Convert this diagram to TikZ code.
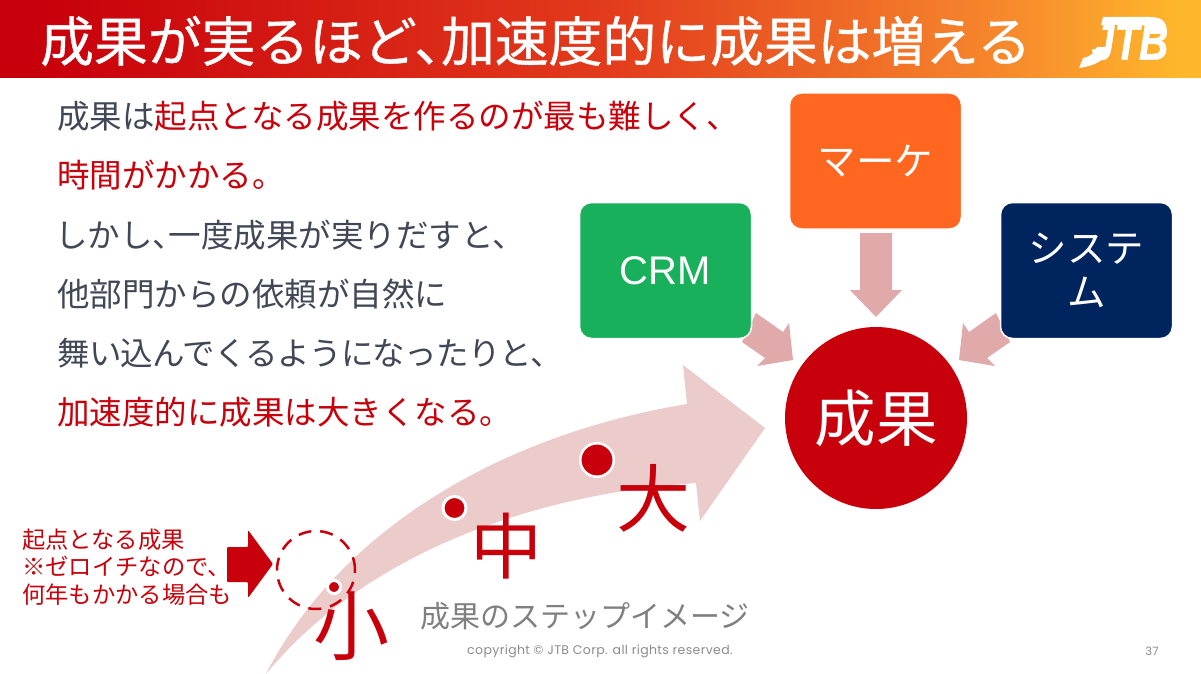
\documentclass[tikz,border=0pt]{standalone}
\usepackage{fontspec}
\setmainfont{Noto Sans CJK JP}
\newfontfamily\titlefont[FakeBold=0.7]{Noto Sans CJK JP}
\newfontfamily\tightfont[LetterSpace=-2.2]{Noto Sans CJK JP}
\newfontfamily\latinfont{Liberation Sans}
\newfontfamily\smallfont[LetterSpace=3]{Poppins}
\newfontfamily\logofont[FakeBold=1]{Liberation Sans Bold Italic}
\definecolor{jred}{HTML}{C8000B}
\definecolor{jgray}{HTML}{404756}
\definecolor{jpink}{HTML}{E0A9AA}
\definecolor{jarrow}{HTML}{EBCCCB}
\definecolor{g0}{HTML}{C8000B}
\definecolor{g1}{HTML}{E23A1C}
\definecolor{g2}{HTML}{F6872C}
\definecolor{g3}{HTML}{FEB62C}
\pgfdeclarehorizontalshading{hgrad}{100bp}{
 color(0bp)=(g0); color(27bp)=(g0); color(50bp)=(g1);
 color(66.5bp)=(g2); color(74bp)=(g3); color(100bp)=(g3)}
\tikzset{
 x=1pt,y=-1pt,
 box/.style={draw=white,line width=1.5pt,rounded corners=12pt,minimum width=172pt,minimum height=136pt,inner sep=0pt,text=white,align=center},
 body/.style={anchor=west,inner sep=0pt,font=\fontsize{32.5}{36}\selectfont,text=jgray},
 sizelabel/.style={inner sep=0pt,text=jred},
 dotmark/.style={circle,fill=jred,draw=white,inner sep=0pt,outer sep=0pt,line width=3pt},
 pinkarrow/.style={fill=jpink,draw=none},
}
\begin{document}
\begin{tikzpicture}
\useasboundingbox (0,0) rectangle (1201,674);
\fill[white] (0,0) rectangle (1201,674);
\shade[shading=hgrad] (0,0) rectangle (1201,78);
\node[anchor=west,inner sep=0pt,text=white] (title) at (40,41) {\titlefont\fontsize{53.8}{56}\selectfont 成果が実るほど、\hspace{-.5em}加速度的に成果は増える};
\node[inner sep=0pt,text=white,xscale=.78] (logo) at (1130,42) {\logofont\fontsize{52}{52}\selectfont JTB};
\fill[white] (1079,68) -- (1083,58) .. controls (1092,56) and (1095,52) .. (1097,47) -- (1110,47) .. controls (1106,60) and (1095,66) .. (1079,68) -- cycle;
\fill[white] (1103,17) -- (1150,17) .. controls (1164,17) and (1168,24) .. (1166,34) -- (1150,34) .. controls (1152,26) and (1146,25) .. (1135,25) -- (1101,25) -- cycle;

\node[body] (l1) at (57,116) {成果は\textcolor{jred}{起点となる成果を作るのが最も難しく、}};
\node[body,text=jred] (l2) at (57,175) {時間がかかる。};
\node[body] (l3) at (55,235) {しかし、\hspace{-.5em}一度成果が実りだすと、};
\node[body] (l4) at (57,294) {他部門からの依頼が自然に};
\node[body] (l5) at (57,353) {\tightfont\fontsize{32.5}{36}\selectfont 舞い込んでくるようになったりと、};
\node[body,text=jred] (l6) at (57,412) {加速度的に成果は大きくなる。};

% big arrow
\fill[jarrow] (266,674) .. controls (340,530) and (500,435) .. (687,404) -- (683,365) -- (765,428) -- (700,521) -- (696,483) .. controls (520,495) and (360,560) .. (266,674) -- cycle;

% circle and boxes
\node[circle,fill=jred,minimum size=182pt,inner sep=0pt,text=white,font=\fontsize{61.5}{62}\selectfont] (result) at (876,418) {\raisebox{2pt}{成果}};
\fill[pinkarrow] (756,313) -- (783,332) -- (789,323) -- (793,360) -- (757,366) -- (765,358) -- (742,342) -- cycle;
\fill[pinkarrow] (996,313) -- (969,332) -- (963,323) -- (959,360) -- (995,366) -- (987,358) -- (1010,342) -- cycle;
\fill[pinkarrow] (860,233) -- (892,233) -- (892,290) -- (902,290) -- (876,317) -- (850,290) -- (860,290) -- cycle;
\node[box,fill={rgb,255:red,24;green,176;blue,90},font=\latinfont\fontsize{40}{44}\selectfont] (crm) at (665.5,270.5) {CRM};
\node[box,fill={rgb,255:red,255;green,102;blue,31},font=\fontsize{38.5}{44}\selectfont] (marke) at (875.5,161) {\raisebox{2pt}{マーケ}};
\node[box,fill={rgb,255:red,0;green,36;blue,93},font=\fontsize{38.5}{44}\selectfont] (system) at (1086.5,270.5) {システ\\ム};

% dots
\node[dotmark,minimum size=13pt] (dots) at (334,587) {};
\node[dotmark,minimum size=23pt] (dotm) at (454.5,508) {};
\node[dotmark,minimum size=33.5pt,line width=2.5pt] (dotl) at (597,460) {};

\node[sizelabel,font=\fontsize{76}{76}\selectfont] (small) at (351,626) {小};
\node[sizelabel,font=\fontsize{72}{72}\selectfont] (mid) at (506,546) {中};
\node[sizelabel,font=\fontsize{74}{74}\selectfont] (large) at (653,498) {大};

\node[inner sep=0pt,text=black!50,font=\fontsize{30}{34}\selectfont] (stepcap) at (585,616) {成果のステップイメージ};
\node[circle,draw=jred,line width=2.5pt,dash pattern=on 13pt off 9pt,minimum size=78pt,inner sep=0pt] (start) at (316,570) {};
\fill[jred,rounded corners=1pt] (227,547) -- (248,547) -- (248,530) -- (273,564) -- (248,598) -- (248,582) -- (227,582) -- cycle;
\node[anchor=west,inner sep=0pt,text=jred,font=\fontsize{23.3}{27.7}\selectfont,align=left] (note) at (22,567) {起点となる成果\\※ゼロイチなので、\\何年もかかる場合も};

\node[inner sep=0pt,text=black!45,font=\smallfont\fontsize{12.5}{14}\selectfont] (copy) at (600,651) {copyright © JTB Corp. all rights reserved.};
\node[inner sep=0pt,text=black!45,font=\smallfont\fontsize{11.5}{14}\selectfont] (page) at (1152,651) {37};
\end{tikzpicture}
\end{document}
